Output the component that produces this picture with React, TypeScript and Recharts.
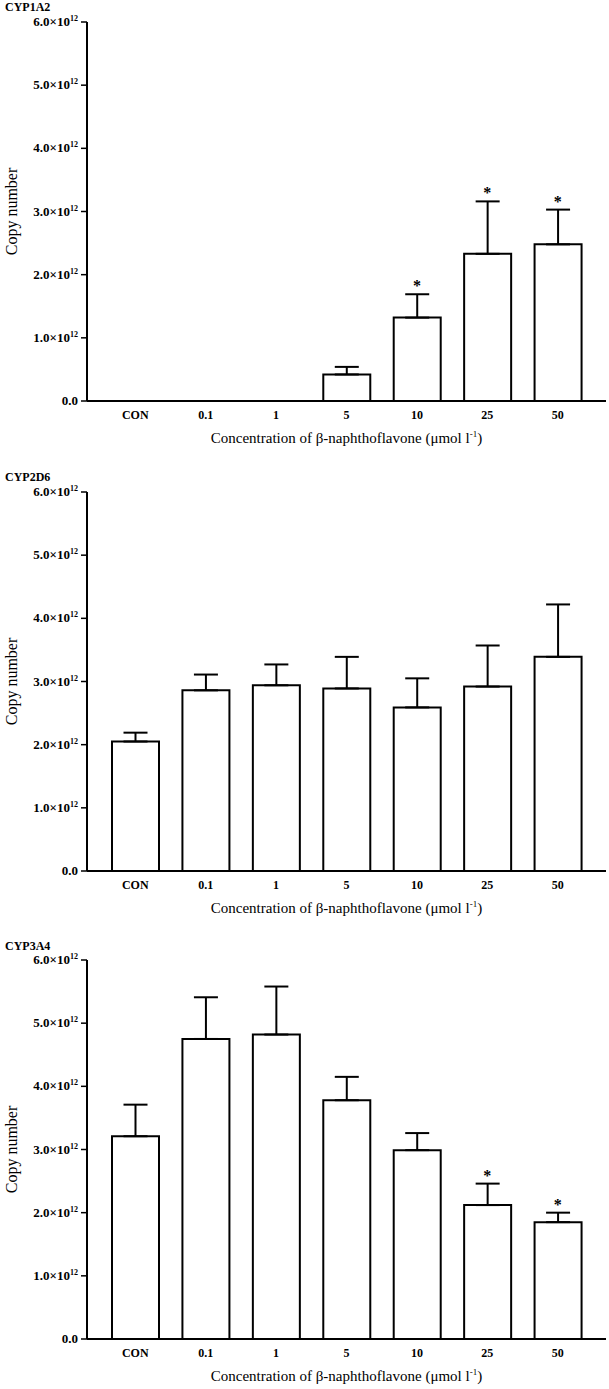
import React from 'react'
import { ComposedChart, Bar, ErrorBar, Scatter, XAxis, YAxis, Label } from 'recharts'

const FONT = '"Liberation Serif", "Times New Roman", Times, serif'

const concentrations = ['CON', '0.1', '1', '5', '10', '25', '50']
const yTicks = [0, 1, 2, 3, 4, 5, 6]

// copy number, in units of 10^12
const cyp1a2Mean = [0, 0, 0, 0.42, 1.32, 2.33, 2.48]
const cyp1a2Err = [0, 0, 0, 0.12, 0.37, 0.83, 0.55]
const cyp1a2Sig = [false, false, false, false, true, true, true]

const cyp2d6Mean = [2.05, 2.86, 2.94, 2.89, 2.59, 2.92, 3.39]
const cyp2d6Err = [0.14, 0.25, 0.33, 0.5, 0.46, 0.65, 0.83]
const cyp2d6Sig = [false, false, false, false, false, false, false]

const cyp3a4Mean = [3.21, 4.75, 4.82, 3.78, 2.99, 2.12, 1.85]
const cyp3a4Err = [0.5, 0.66, 0.76, 0.37, 0.27, 0.34, 0.15]
const cyp3a4Sig = [false, false, false, false, false, true, true]

function buildRows(mean: number[], err: number[], sig: boolean[]) {
  return concentrations.map((c, i) => ({
    conc: c,
    mean: mean[i],
    err: [0, err[i]],
    star: sig[i] ? mean[i] + err[i] : null,
  }))
}

function YTick({ x, y, payload }: any) {
  const v = payload.value as number
  const common = { x, y, dy: 4, textAnchor: 'end' as const, fontFamily: FONT, fontSize: 13, fontWeight: 'bold' as const, fill: '#000' }
  if (v === 0) return <text {...common}>0.0</text>
  return (
    <text {...common}>
      {v.toFixed(1)}×10
      <tspan dy={-5} fontSize={8}>12</tspan>
    </text>
  )
}

function XTitle({ viewBox }: any) {
  const { x, y, width } = viewBox
  return (
    <text x={x + width / 2} y={y + 42} textAnchor="middle" fontFamily={FONT} fontSize={15} fill="#000">
      Concentration of β-naphthoflavone (μmol l
      <tspan dy={-6} fontSize={9}>-1</tspan>
      <tspan dy={6}>)</tspan>
    </text>
  )
}

function YTitle({ viewBox }: any) {
  const { x, y, height } = viewBox
  const cx = x + 10
  const cy = y + height / 2
  return (
    <text x={cx} y={cy} transform={`rotate(-90, ${cx}, ${cy})`} textAnchor="middle" fontFamily={FONT} fontSize={16} fill="#000">
      Copy number
    </text>
  )
}

function Star(props: any) {
  const { cx, cy, payload } = props
  if (payload == null || payload.star == null || cy == null) return <g />
  return (
    <text x={cx} y={cy - 3} textAnchor="middle" fontFamily={FONT} fontSize={16} fontWeight="bold" fill="#000">
      *
    </text>
  )
}

function Panel({ title, rows, top, titleTop }: { title: string; rows: any[]; top: number; titleTop: number }) {
  return (
    <div style={{ position: 'absolute', left: 0, top, width: 609, height: 451 }}>
      <ComposedChart width={609} height={451} data={rows} margin={{ top: 22, right: 3, left: 7, bottom: 0 }}>
        <XAxis
          dataKey="conc"
          padding={{ left: 13, right: 13 }}
          tickLine={false}
          axisLine={{ stroke: '#000', strokeWidth: 2 }}
          tick={{ fill: '#000', fontSize: 12, fontFamily: FONT, fontWeight: 'bold' }}
          tickMargin={3}
          interval={0}
          height={50}
        >
          <Label content={<XTitle />} />
        </XAxis>
        <YAxis
          domain={[0, 6]}
          ticks={yTicks}
          interval={0}
          width={80}
          tickSize={6}
          tickMargin={3}
          axisLine={{ stroke: '#000', strokeWidth: 2 }}
          tickLine={{ stroke: '#000', strokeWidth: 1.5 }}
          tick={<YTick />}
        >
          <Label content={<YTitle />} />
        </YAxis>
        <Bar dataKey="mean" fill="#fff" stroke="#000" strokeWidth={2} barSize={47} isAnimationActive={false}>
          <ErrorBar dataKey="err" direction="y" width={12} stroke="#000" strokeWidth={2} />
        </Bar>
        <Scatter dataKey="star" shape={<Star />} isAnimationActive={false} />
      </ComposedChart>
      <div
        style={{
          position: 'absolute',
          left: 5,
          top: titleTop,
          fontFamily: FONT,
          fontSize: 12,
          fontWeight: 'bold',
          lineHeight: '12px',
        }}
      >
        {title}
      </div>
    </div>
  )
}

export default function App() {
  return (
    <div style={{ position: 'absolute', left: 0, top: 0, width: 609, height: 1389, background: '#fff', overflow: 'hidden' }}>
      <Panel title="CYP1A2" rows={buildRows(cyp1a2Mean, cyp1a2Err, cyp1a2Sig)} top={0} titleTop={1} />
      <Panel title="CYP2D6" rows={buildRows(cyp2d6Mean, cyp2d6Err, cyp2d6Sig)} top={470} titleTop={1} />
      <Panel title="CYP3A4" rows={buildRows(cyp3a4Mean, cyp3a4Err, cyp3a4Sig)} top={938} titleTop={2} />
    </div>
  )
}
